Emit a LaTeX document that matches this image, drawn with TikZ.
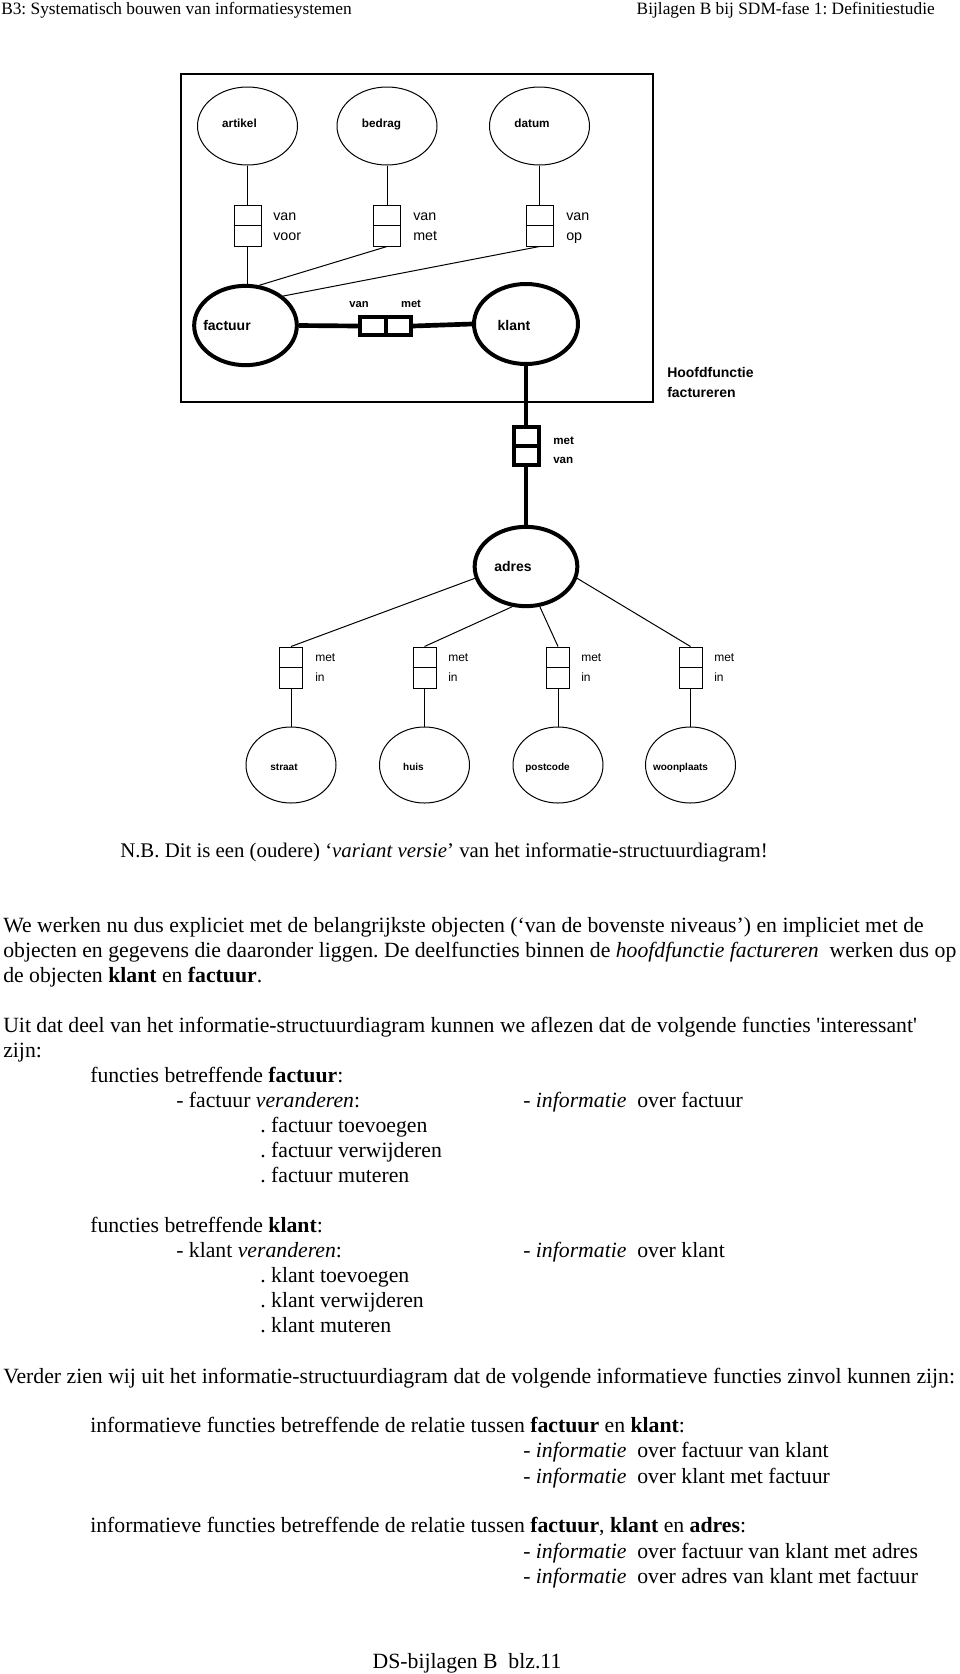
\documentclass[tikz,border=0pt]{standalone}
\usepackage{fontspec}
\setmainfont{Liberation Serif}
\newfontfamily\arial{Liberation Sans}
\usetikzlibrary{shapes.geometric}

\begin{document}
\frenchspacing
\begin{tikzpicture}[x=0.75pt,y=0.75pt,yscale=-1,xscale=1,
    ent/.style={ellipse, draw, line width=0.75pt, inner sep=0pt, minimum width=75pt, minimum height=58.5pt},
    attr/.style={ellipse, draw, line width=0.75pt, inner sep=0pt, minimum width=67.5pt, minimum height=57pt},
    hoofd/.style={ellipse, draw, line width=3pt, inner sep=0pt, minimum width=77pt, minimum height=59.5pt},
    rol/.style={rectangle, draw, line width=0.75pt, inner sep=0pt, minimum height=30.75pt},
    rolk/.style={rectangle, draw, line width=3pt, inner sep=0pt},
    dik/.style={line width=3.5pt},
    lbl/.style={anchor=base west, inner sep=0pt, font=\arial\fontsize{10.7}{12}\selectfont},
    nm/.style={anchor=base, inner sep=0pt, font=\arial\bfseries\fontsize{8.8}{10}\selectfont},
    txt/.style={anchor=base west, inner sep=0pt, font=\fontsize{16.3}{18.75}\selectfont}
  ]
\useasboundingbox (0,0) rectangle (960,1674);

% Text Node: kop
\node[txt, font=\fontsize{13}{15}\selectfont] (kopl) at (1,14) {B3: Systematisch bouwen van informatiesystemen};
\node[txt, anchor=base east, font=\fontsize{13}{15}\selectfont] (kopr) at (935,14) {Bijlagen B bij SDM-fase 1: Definitiestudie};

%Shape: Rectangle (hoofdfunctie)
\draw[line width=1.9pt] (181,74) rectangle (653,402);

%Shape: Ellipse
\node[ent] (artikel) at (247.5,126) {};
\node[ent] (bedrag) at (387,126) {};
\node[ent] (datum) at (539.5,126) {};
\node[hoofd] (factuur) at (245.5,325.5) {};
\node[hoofd, minimum width=78pt, minimum height=60pt] (klant) at (526,324) {};
\node[hoofd] (adres) at (526,566.5) {};
\node[attr] (straat) at (291,765) {};
\node[attr] (huis) at (424.5,765) {};
\node[attr] (postcode) at (558,765) {};
\node[attr] (woonplaats) at (690.5,765) {};

% Text Node
\node[nm] (tartikel) at (239.5,127) {artikel};
\node[nm] (tbedrag) at (381.5,127) {bedrag};
\node[nm] (tdatum) at (532,127) {datum};
\node[nm, font=\arial\bfseries\fontsize{10.5}{12}\selectfont] (tfactuur) at (227,330.5) {factuur};
\node[nm, font=\arial\bfseries\fontsize{10.5}{12}\selectfont] (tklant) at (514,330.5) {klant};
\node[nm, font=\arial\bfseries\fontsize{10.5}{12}\selectfont] (tadres) at (513,571.5) {adres};
\node[nm, font=\arial\bfseries\fontsize{7.5}{9}\selectfont] (tstraat) at (284,770.5) {straat};
\node[nm, font=\arial\bfseries\fontsize{7.5}{9}\selectfont] (thuis) at (413.5,770.5) {huis};
\node[nm, font=\arial\bfseries\fontsize{7.5}{9}\selectfont] (tpostcode) at (547.5,770.5) {postcode};
\node[nm, font=\arial\bfseries\fontsize{7.5}{9}\selectfont] (twoonplaats) at (680.5,770.5) {woonplaats};

%Shape: Rectangle (rollen)
\node[rol, minimum width=20.25pt] (rv1) at (247.5,225.5) {};
\node[rol, minimum width=20.25pt] (rv2) at (387,225.5) {};
\node[rol, minimum width=20.25pt] (rv3) at (539.5,225.5) {};
\node[rolk, minimum width=38.25pt, minimum height=13.5pt] (rh) at (385.5,326) {};
\node[rolk, minimum width=18.75pt, minimum height=28.5pt] (rk) at (526,446) {};
\node[rol, minimum width=17.25pt] (ra1) at (291,667.5) {};
\node[rol, minimum width=17.25pt] (ra2) at (424.5,667.5) {};
\node[rol, minimum width=17.25pt] (ra3) at (558,667.5) {};
\node[rol, minimum width=17.25pt] (ra4) at (690.5,667.5) {};
\foreach \r in {rv1,rv2,rv3,ra1,ra2,ra3,ra4}
  \draw[line width=0.75pt] (\r.west) -- (\r.east);
\draw[line width=3pt] (rh.north) -- (rh.south);
\draw[line width=3pt] (rk.west) -- (rk.east);

%Straight Lines
\draw[line width=0.75pt] (artikel.south) -- (rv1.north);
\draw[line width=0.75pt] (bedrag.south) -- (rv2.north);
\draw[line width=0.75pt] (datum.south) -- (rv3.north);
\draw[line width=0.75pt] (rv1.south) -- (rv1.south |- factuur.north);
\draw[line width=0.75pt] (rv2.south) -- (factuur.71);
\draw[line width=0.75pt] (rv3.south) -- (factuur.38);
\draw[dik] (factuur.east) -- (rh.west);
\draw[dik] (rh.east) -- (klant.west);
\draw[dik] (klant.south) -- (rk.north);
\draw[dik] (rk.south) -- (adres.north);
\draw[line width=0.75pt] (adres.193) -- (ra1.north);
\draw[line width=0.75pt] (adres.251) -- (ra2.north);
\draw[line width=0.75pt] (adres.289) -- (ra3.north);
\draw[line width=0.75pt] (adres.347) -- (ra4.north);
\foreach \r/\a in {ra1/straat,ra2/huis,ra3/postcode,ra4/woonplaats}
  \draw[line width=0.75pt] (\r.south) -- (\a.north);

% Text Node: rollen
\node[lbl] (lv1a) at (273,220) {van};
\node[lbl] (lv1b) at (273,240) {voor};
\node[lbl] (lv2a) at (413,220) {van};
\node[lbl] (lv2b) at (413,240) {met};
\node[lbl] (lv3a) at (566,220) {van};
\node[lbl] (lv3b) at (566,240) {op};
\node[nm, font=\arial\bfseries\fontsize{8.4}{10}\selectfont] (lha) at (359,307) {van};
\node[nm, font=\arial\bfseries\fontsize{8.4}{10}\selectfont] (lhb) at (411,307) {met};
\node[lbl, font=\arial\bfseries\fontsize{8.7}{10}\selectfont] (lka) at (553,444) {met};
\node[lbl, font=\arial\bfseries\fontsize{8.7}{10}\selectfont] (lkb) at (553,463.5) {van};
\foreach \x [count=\i] in {315,448,581,714} {
  \node[lbl, font=\arial\fontsize{9}{10}\selectfont] (la\i a) at (\x,661.5) {met};
  \node[lbl, font=\arial\fontsize{9}{10}\selectfont] (la\i b) at (\x,681.5) {in};
}
\node[lbl, font=\arial\bfseries\fontsize{10.5}{12}\selectfont] (hf1) at (667,377) {Hoofdfunctie};
\node[lbl, font=\arial\bfseries\fontsize{10.5}{12}\selectfont] (hf2) at (667,397) {factureren};

% Text Node: tekst
\node[txt, font=\fontsize{15.6}{18.75}\selectfont] (nb) at (120,857) {N.B. Dit is een (oudere) `\textit{variant versie}' van het informatie-structuurdiagram!};
\node[txt] (p1) at (3,932) {We werken nu dus expliciet met de belangrijkste objecten (`van de bovenste niveaus') en impliciet met de};
\node[txt] (p2) at (3,957) {objecten en gegevens die daaronder liggen. De deelfuncties binnen de \textit{hoofdfunctie factureren}\ \ werken dus op};
\node[txt] (p3) at (3,982) {de objecten \textbf{klant} en \textbf{factuur}.};
\node[txt] (p4) at (3,1032) {Uit dat deel van het informatie-structuurdiagram kunnen we aflezen dat de volgende functies \textquotesingle interessant\textquotesingle};
\node[txt] (p5) at (3,1057) {zijn:};
\node[txt] (f1) at (90,1082) {functies betreffende \textbf{factuur}:};
\node[txt] (f2) at (176,1107) {- factuur \textit{veranderen}:};
\node[txt] (f2i) at (523,1107) {- \textit{informatie}\ \ over factuur};
\node[txt] (f3) at (260,1132) {. factuur toevoegen};
\node[txt] (f4) at (260,1157) {. factuur verwijderen};
\node[txt] (f5) at (260,1182) {. factuur muteren};
\node[txt] (k1) at (90,1232) {functies betreffende \textbf{klant}:};
\node[txt] (k2) at (176,1257) {- klant \textit{veranderen}:};
\node[txt] (k2i) at (523,1257) {- \textit{informatie}\ \ over klant};
\node[txt] (k3) at (260,1282) {. klant toevoegen};
\node[txt] (k4) at (260,1307) {. klant verwijderen};
\node[txt] (k5) at (260,1332) {. klant muteren};
\node[txt] (v1) at (3,1383) {Verder zien wij uit het informatie-structuurdiagram dat de volgende informatieve functies zinvol kunnen zijn:};
\node[txt] (r1) at (90,1432) {informatieve functies betreffende de relatie tussen \textbf{factuur} en \textbf{klant}:};
\node[txt] (r2) at (523,1457) {- \textit{informatie}\ \ over factuur van klant};
\node[txt] (r3) at (523,1483) {- \textit{informatie}\ \ over klant met factuur};
\node[txt] (r4) at (90,1532) {informatieve functies betreffende de relatie tussen \textbf{factuur}, \textbf{klant} en \textbf{adres}:};
\node[txt] (r5) at (523,1558) {- \textit{informatie}\ \ over factuur van klant met adres};
\node[txt] (r6) at (523,1583) {- \textit{informatie}\ \ over adres van klant met factuur};
\node[txt, anchor=base] (voet) at (467,1668) {DS-bijlagen B\ \ blz.11};
\end{tikzpicture}
\end{document}
